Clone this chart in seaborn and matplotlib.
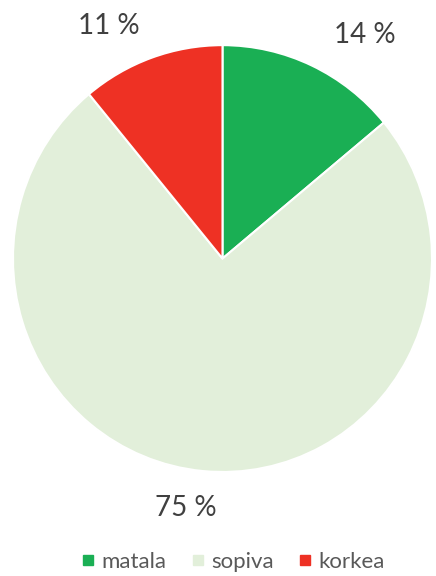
#kirjastot
import matplotlib
matplotlib.use('Agg')
import matplotlib.pyplot as plt
import seaborn as sns
import numpy as np
from matplotlib.lines import Line2D

#data
categories = ['matala', 'sopiva', 'korkea']
values = [14, 75, 11]
colors = ['#1AAF54', '#E2EFDA', '#EE3124']

#tekstien sijoittelu (etaisyys ja kulman siirto)
label_dist = [1.25, 1.18, 1.22]
label_turn = [-7.7, -3.2, 6.7]

sns.set_theme(style='white')
plt.rcParams['font.family'] = ['Lato', 'DejaVu Sans']

fig = plt.figure(figsize=(4.36, 5.76), dpi=100)
ax = fig.add_axes([0.0298, 0.1806, 0.961, 0.741])

wedges, texts = ax.pie(values, colors=colors, startangle=90, counterclock=False,
                       labels=['{} %'.format(v) for v in values], labeldistance=1.0,
                       wedgeprops=dict(edgecolor='white', linewidth=1.5),
                       textprops=dict(fontsize=20, color='#404040'))
#siirra tekstit ulos
for t, w, d, a in zip(texts, wedges, label_dist, label_turn):
    ang = np.deg2rad((w.theta1 + w.theta2) / 2 + a)
    t.set_position((d * np.cos(ang), d * np.sin(ang)))
    t.set_ha('center')
    t.set_va('center')

ax.set_xlim(-1, 1)
ax.set_ylim(-1, 1)
ax.set_aspect('auto')

handles = [Line2D([0], [0], marker='s', color='none', markerfacecolor=c,
                  markeredgecolor=c, markersize=7) for c in colors]
fig.legend(handles, categories, loc='center', bbox_to_anchor=(0.532, 0.024), ncol=3,
           frameon=False, fontsize=16, labelcolor='#595959', handletextpad=0.2,
           columnspacing=1.0, handlelength=0.8)

fig.savefig('out.png', dpi=100)
